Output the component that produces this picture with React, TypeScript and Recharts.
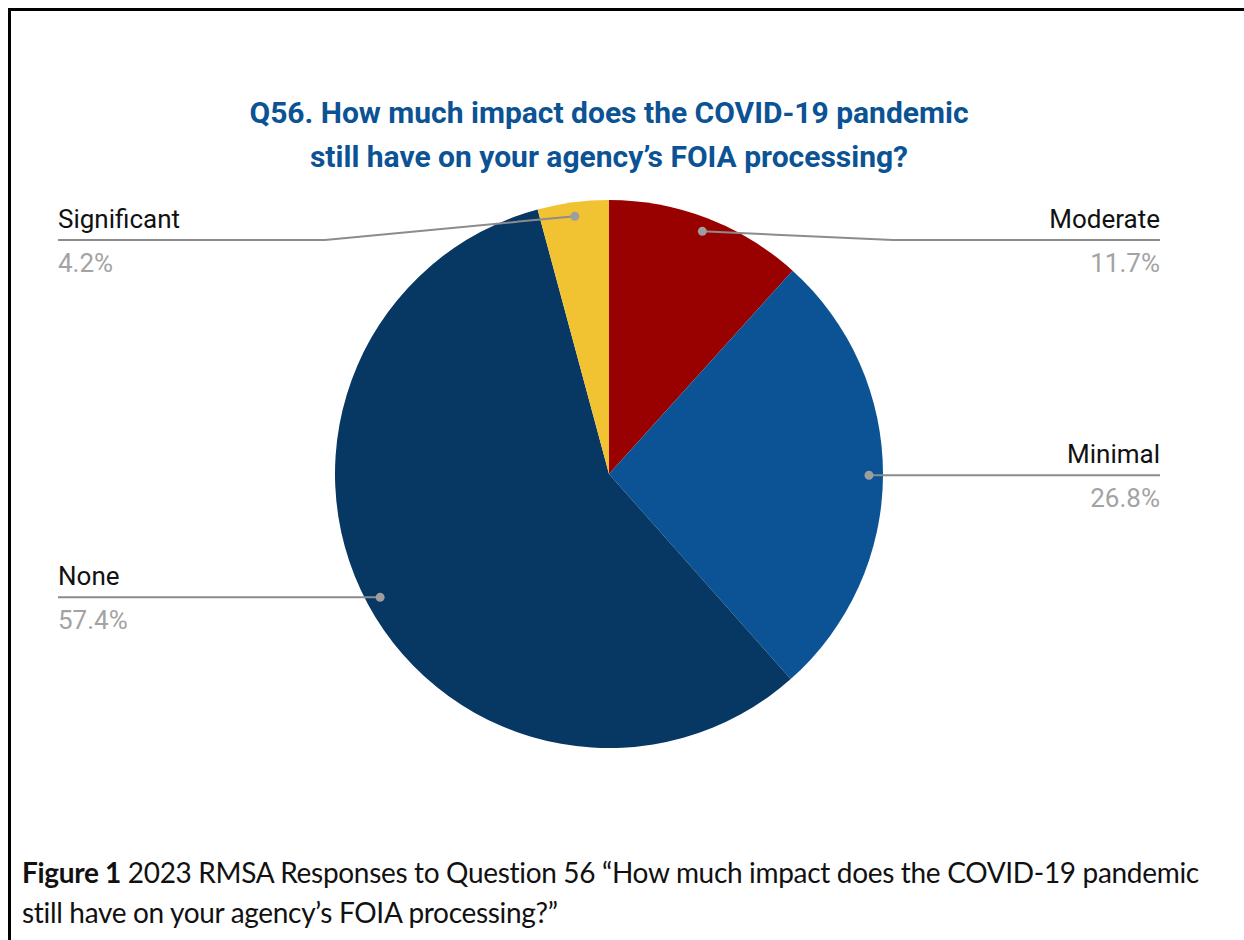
import { PieChart, Pie, Cell } from 'recharts';

const categories = ['Moderate', 'Minimal', 'None', 'Significant'];
const shares = [11.7, 26.8, 57.4, 4.2];
const colors = ['#990000', '#0b5394', '#073763', '#f1c232'];

const titleLines = [
  'Q56. How much impact does the COVID-19 pandemic',
  'still have on your agency’s FOIA processing?',
];

const data = categories.map((name, i) => ({ name, value: shares[i] }));

const RADIAN = Math.PI / 180;

const renderLabel = (props: any) => {
  const { cx, cy, midAngle, outerRadius, name, value } = props;
  const cos = Math.cos(-midAngle * RADIAN);
  const sin = Math.sin(-midAngle * RADIAN);
  const dotX = cx + (outerRadius - 14) * cos;
  const dotY = cy + (outerRadius - 14) * sin;
  const right = cos >= 0;
  const lineY = Math.max(dotY, cy - outerRadius + 40);
  const elbowX = cx + (right ? 1 : -1) * (outerRadius + 10);
  const endX = cx + (right ? 1 : -1) * 551;
  const anchor = right ? 'end' : 'start';
  return (
    <g>
      <polyline
        points={`${dotX},${dotY} ${elbowX},${lineY} ${endX},${lineY}`}
        fill="none"
        stroke="#8c8c8c"
        strokeWidth={2}
      />
      <circle cx={dotX} cy={dotY} r={4.5} fill="#9e9e9e" />
      <text x={endX} y={lineY - 12} textAnchor={anchor} fontSize={26} fill="#111" fontFamily="Roboto">
        {name}
      </text>
      <text x={endX} y={lineY + 32} textAnchor={anchor} fontSize={26} fill="#a3a3a3" fontFamily="Roboto">
        {value.toFixed(1)}%
      </text>
    </g>
  );
};

export default function App() {
  return (
    <div
      style={{
        position: 'fixed',
        left: 8,
        top: 8,
        width: 1240,
        height: 940,
        borderTop: '3px solid #000',
        borderLeft: '3px solid #000',
        boxSizing: 'border-box',
        background: '#fff',
      }}
    >
      <div
        style={{
          position: 'absolute',
          left: 0,
          top: 80,
          width: 1196,
          textAlign: 'center',
          fontFamily: 'Roboto, sans-serif',
          fontWeight: 'bold',
          fontSize: 30,
          lineHeight: '44px',
          color: '#0b5394',
        }}
      >
        {titleLines.map((t) => (
          <div key={t}>{t}</div>
        ))}
      </div>
      <div style={{ position: 'absolute', left: 0, top: 0 }}>
        <PieChart width={1224} height={800}>
          <Pie
            data={data}
            dataKey="value"
            nameKey="name"
            cx={593}
            cy={458}
            outerRadius={274}
            startAngle={90}
            endAngle={-270}
            label={renderLabel}
            labelLine={false}
            isAnimationActive={false}
            stroke="none"
          >
            {data.map((d, i) => (
              <Cell key={d.name} fill={colors[i]} />
            ))}
          </Pie>
        </PieChart>
      </div>
      <div
        style={{
          position: 'absolute',
          left: 11,
          top: 841,
          fontFamily: 'Lato, sans-serif',
          fontSize: 28,
          letterSpacing: -0.32,
          lineHeight: '40px',
          color: '#111',
          whiteSpace: 'nowrap',
        }}
      >
        <div>
          <b>Figure 1</b> 2023 RMSA Responses to Question 56 “How much impact does the COVID-19 pandemic
        </div>
        <div>still have on your agency’s FOIA processing?”</div>
      </div>
    </div>
  );
}
